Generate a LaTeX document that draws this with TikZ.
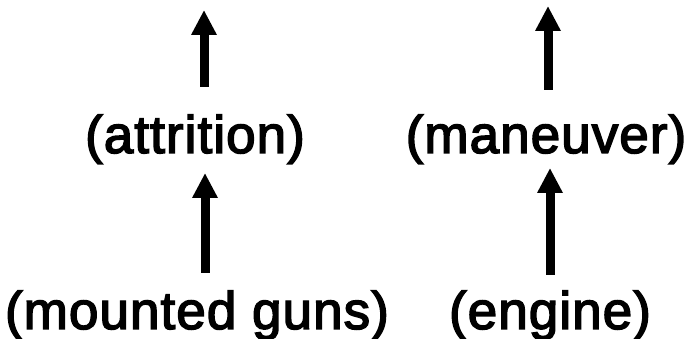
\documentclass[tikz,border=0pt]{standalone}
\usepackage{fontspec}
\setmainfont{Liberation Sans}[FakeBold=2.8,LetterSpace=2]
\usetikzlibrary{arrows.meta}
\tikzset{
  lbl/.style={anchor=base, inner sep=0pt, font=\fontsize{53}{60}\selectfont},
  arr/.style={line width=9pt, -{Triangle[width=24pt,length=25pt]}}
}
\begin{document}
\begin{tikzpicture}[x=1pt,y=1pt]
\useasboundingbox (0,0) rectangle (686,339);
\node[lbl] (attrition) at (195,186) {(attrition)};
\node[lbl] (maneuver) at (546,186) {(maneuver)};
\node[lbl] (mounted) at (197,10) {(mounted guns)};
\node[lbl] (engine) at (550,10) {(engine)};
\coordinate (topL) at (204,329);
\coordinate (topR) at (548,333);
\draw[arr] ([xshift=9pt,yshift=66pt]attrition.base) -- (topL);
\draw[arr] ([xshift=2pt,yshift=63pt]maneuver.base) -- (topR);
\draw[arr] ([xshift=8pt,yshift=56pt]mounted.base) -- ([xshift=10pt,yshift=-20pt]attrition.base);
\draw[arr] ([xshift=0pt,yshift=54pt]engine.base) -- ([xshift=4pt,yshift=-15pt]maneuver.base);
\end{tikzpicture}
\end{document}
